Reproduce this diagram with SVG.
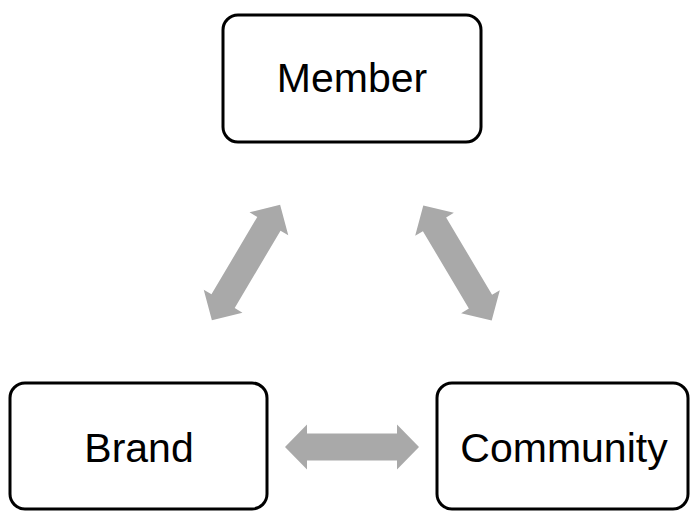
<svg xmlns="http://www.w3.org/2000/svg" width="691" height="512" viewBox="0 0 691 512">
<style>
.box{fill:#fff;stroke:#000;stroke-width:3}
.lbl{font-family:"Liberation Sans",Arial,sans-serif;font-size:41px;fill:#000;text-anchor:middle}
.arr{fill:#A9A9A9}
</style>
<defs>
<polygon id="dbl" class="arr" points="-67,0 -45,-22.5 -45,-13.5 45,-13.5 45,-22.5 67,0 45,22.5 45,13.5 -45,13.5 -45,22.5"/>
</defs>
<rect width="691" height="512" fill="#fff"/>
<g id="connectors">
<use href="#dbl" transform="translate(246,262.5) rotate(-59.4)"/>
<use href="#dbl" transform="translate(457.5,263) rotate(59.3)"/>
<use href="#dbl" transform="translate(352,447)"/>
</g>
<g id="member">
<rect class="box" x="223" y="15" width="258" height="127" rx="15"/>
<text class="lbl" x="352" y="92">Member</text>
</g>
<g id="brand">
<rect class="box" x="10" y="383" width="257" height="126" rx="15"/>
<text class="lbl" x="139" y="462">Brand</text>
</g>
<g id="community">
<rect class="box" x="437" y="383" width="251" height="126" rx="15"/>
<text class="lbl" x="564" y="462">Community</text>
</g>
</svg>
